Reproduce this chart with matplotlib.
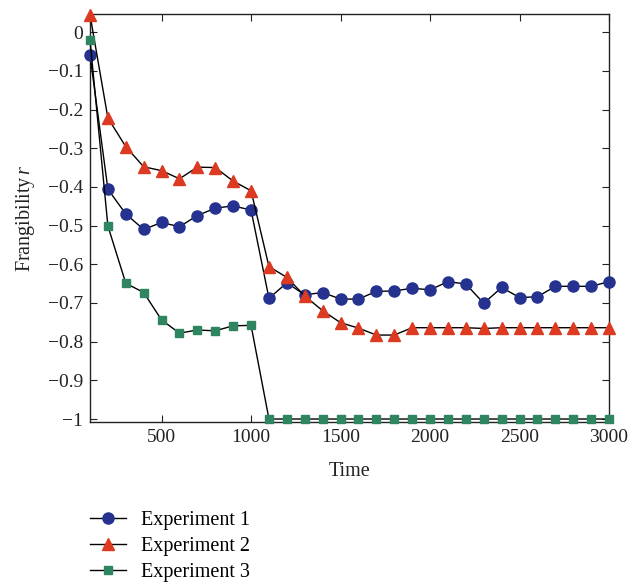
import matplotlib
matplotlib.use("Agg")
import matplotlib.pyplot as plt
import numpy as np

plt.rcParams['font.family'] = ['Liberation Serif', 'DejaVu Serif']
plt.rcParams['mathtext.fontset'] = 'custom'
plt.rcParams['mathtext.it'] = 'Liberation Serif:italic'
plt.rcParams['mathtext.rm'] = 'Liberation Serif'

# data
time = list(range(100, 3001, 100))
exp1 = [-0.059, -0.406, -0.47, -0.51, -0.492, -0.503, -0.474, -0.455, -0.449, -0.46,
        -0.688, -0.648, -0.679, -0.673, -0.690, -0.690, -0.670, -0.669, -0.662, -0.666,
        -0.645, -0.651, -0.701, -0.660, -0.686, -0.684, -0.657, -0.657, -0.657, -0.645]
exp2 = [0.045, -0.222, -0.296, -0.348, -0.358, -0.379, -0.349, -0.350, -0.385, -0.41,
        -0.606, -0.634, -0.682, -0.720, -0.751, -0.765, -0.783, -0.783, -0.764, -0.764,
        -0.764, -0.764, -0.766, -0.764, -0.764, -0.764, -0.764, -0.764, -0.764, -0.764]
exp3 = [-0.02, -0.501, -0.649, -0.673, -0.744, -0.778, -0.770, -0.772, -0.759, -0.758,
        -1.0, -1.0, -1.0, -1.0, -1.0, -1.0, -1.0, -1.0, -1.0, -1.0,
        -1.0, -1.0, -1.0, -1.0, -1.0, -1.0, -1.0, -1.0, -1.0, -1.0]
labels = ['Experiment 1', 'Experiment 2', 'Experiment 3']

fig = plt.figure(figsize=(6.4, 5.82), dpi=100)
ax = fig.add_axes([0.1406, 0.2754, 0.811, 0.7006])

ax.plot(time, exp1, '-o', color='black', lw=1, markerfacecolor='#253290',
        markeredgecolor='#253290', markersize=8, label=labels[0], clip_on=False, zorder=3)
ax.plot(time, exp2, '-^', color='black', lw=1, markerfacecolor='#dd3a22',
        markeredgecolor='#dd3a22', markersize=8.5, label=labels[1], clip_on=False, zorder=3)
ax.plot(time, exp3, '-s', color='black', lw=1, markerfacecolor='#2f8560',
        markeredgecolor='#2f8560', markersize=6, label=labels[2], clip_on=False, zorder=3)

ax.set_xlim(100, 3000)
ax.set_ylim(-1.007, 0.047)
ax.set_xticks([500, 1000, 1500, 2000, 2500, 3000])
ax.set_yticks(np.arange(-1.0, 0.01, 0.1))
ax.set_yticklabels(['\u22121', '\u22120.9', '\u22120.8', '\u22120.7', '\u22120.6', '\u22120.5',
                    '\u22120.4', '\u22120.3', '\u22120.2', '\u22120.1', '0'])
ax.tick_params(direction='in', top=True, right=True, labelsize=14, length=5,
               color='#222222', labelcolor='#222222', pad=5)
for s in ax.spines.values():
    s.set_linewidth(1)
    s.set_color('#222222')
ax.set_xlabel('Time', fontsize=14.5, color='#222222', labelpad=12)
ax.set_ylabel(r'$\mathrm{Frangibility}\,r$', fontsize=14.5, color='#222222', labelpad=8)

fig.legend(loc='upper left', bbox_to_anchor=(0.1406, 0.122), frameon=False,
           fontsize=14.5, handlelength=1.8, labelspacing=0.34, borderaxespad=0,
           borderpad=0, handletextpad=0.72)

fig.savefig('out.png', dpi=100)
